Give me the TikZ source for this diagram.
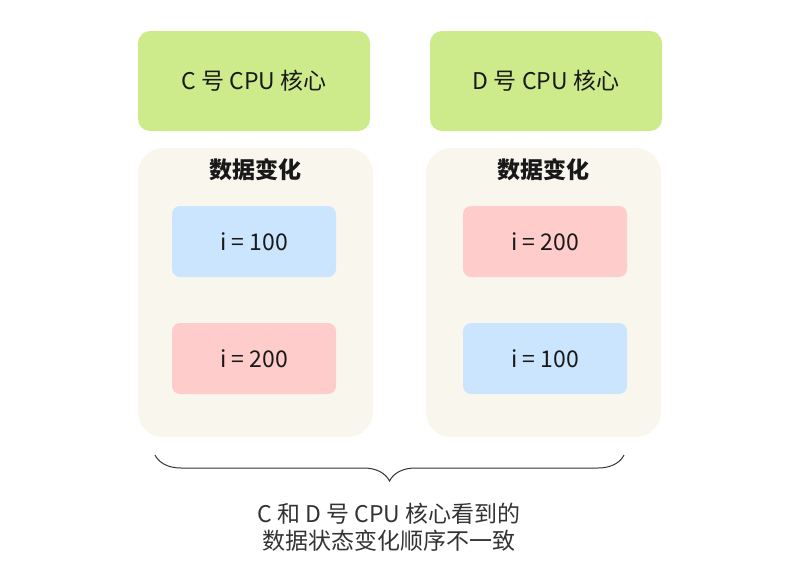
\documentclass[tikz,border=0pt]{standalone}
\usepackage{fontspec}
\setmainfont{Noto Sans CJK SC}
\usetikzlibrary{decorations.pathreplacing}

\definecolor{coregreen}{HTML}{CDEB8B}
\definecolor{panelbeige}{HTML}{F9F7ED}
\definecolor{valblue}{HTML}{CCE5FF}
\definecolor{valred}{HTML}{FFCCCC}
\definecolor{txtgray}{HTML}{333333}

\tikzset{
  core/.style={fill=coregreen, rounded corners=12pt, minimum width=232pt,
    minimum height=100pt, font=\fontsize{23}{26}\selectfont, text=black!90},
  panel/.style={fill=panelbeige, rounded corners=25pt, minimum width=235pt,
    minimum height=289pt},
  val/.style={rounded corners=8pt, minimum width=164pt, minimum height=71pt,
    font=\fontsize{23}{26}\selectfont, text=black!90},
  title/.style={font=\fontsize{23}{26}\selectfont\bfseries, text=black!90}
}

\begin{document}
\begin{tikzpicture}[x=1pt,y=-1pt]
  \useasboundingbox (0,0) rectangle (802,563);
  % cores
  \node[core] (cC) at (254,81) {C 号 CPU 核心};
  \node[core] (cD) at (546,81) {D 号 CPU 核心};
  % data panels
  \node[panel] (pC) at (255.5,292.5) {};
  \node[panel] (pD) at (543.5,292.5) {};
  \node[title] (tC) at (255,170) {数据变化};
  \node[title] (tD) at (543,170) {数据变化};
  \node[val, fill=valblue] (c1) at (254,241.5) {i = 100};
  \node[val, fill=valred] (c2) at (254,358.5) {i = 200};
  \node[val, fill=valred] (d1) at (545,241.5) {i = 200};
  \node[val, fill=valblue] (d2) at (545,358.5) {i = 100};
  % brace and note
  \coordinate (bl) at (155,455);
  \coordinate (br) at (624,455);
  \draw[txtgray, line width=1pt, decorate,
    decoration={brace, mirror, amplitude=26pt}] (bl) -- (br);
  \node[align=center, text=txtgray, font=\fontsize{23}{27}\selectfont]
    (note) at (389,527) {C 和 D 号 CPU 核心看到的\\数据状态变化顺序不一致};
\end{tikzpicture}
\end{document}
